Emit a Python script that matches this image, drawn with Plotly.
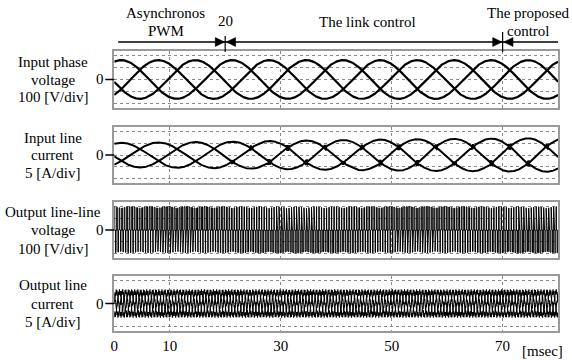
import numpy as np
import plotly.graph_objects as go

# ---------------- data ----------------
x_tick_vals = [0, 10, 30, 50, 70]
x_tick_text = ["0", "10", "30", "50", "70"]
t_end = 80.0                      # msec
mode_marks = [20, 70]             # control switching instants [msec]
mode_mark_labels = ["20", ""]

panel_labels = [
    ["Input phase", "voltage", "100 [V/div]"],
    ["Input line", "current", "5 [A/div]"],
    ["Output line-line", "voltage", "100 [V/div]"],
    ["Output line", "current", "5 [A/div]"],
]
panel_div = [100, 5, 100, 5]      # units per division

# input phase voltage (3-phase, 50 Hz)
vin_freq_hz = 50.0
vin_amp_v = 163.0
vin_phase_deg = -53.0
phase_shift_deg = [0.0, -120.0, 120.0]

# input line current envelope (A) read at these instants (msec)
iin_env_t = [0, 20, 40, 60, 80]
iin_env_a = [5.2, 5.7, 6.4, 6.9, 7.2]
iin_glitch_a = 1.1                # distortion at crossings after 20 ms
iin_glitch_khz = 2.0

# output line-line voltage PWM
vout_pulse_v = [200.0, 196.0]     # positive / negative pulse heights
vout_carrier_ms = 0.45
vout_freq_hz = 23.0
vout_mod = 0.8

# output line current
iout_freq_hz = 610.0
iout_amp_a = 5.1
iout_ripple_a = 1.1
iout_ripple_khz = 6.3

# ---------------- build traces ----------------
W, H = 572, 360
x0_px, x1_px = 111, 558
panels_px = [(51, 108), (127, 183), (202, 258), (276, 331)]
FONT = "Liberation Serif, DejaVu Serif"

t = np.arange(0, t_end + 1e-9, 0.01)
tf = np.arange(0, t_end + 1e-9, 0.004)

fig = go.Figure()

def ydom(p):
    a, b = panels_px[p]
    return [1 - b / H, 1 - a / H]

# panel 1
th = 2 * np.pi * vin_freq_hz * t / 1000 + np.deg2rad(vin_phase_deg)
for ps in phase_shift_deg:
    fig.add_trace(go.Scatter(x=t, y=vin_amp_v * np.sin(th + np.deg2rad(ps)),
                             mode="lines", line=dict(color="black", width=2.2),
                             xaxis="x", yaxis="y", hoverinfo="skip"))

# panel 2
env = np.interp(t, iin_env_t, iin_env_a)
gl_on = (t > 18.5).astype(float)
for k, ps in enumerate(phase_shift_deg):
    s = np.sin(th + np.deg2rad(ps))
    glitch = iin_glitch_a * np.sin(2 * np.pi * iin_glitch_khz * t + k * 2.1) * \
        np.exp(-((np.abs(s) - 0.5) / 0.07) ** 2) * gl_on
    fig.add_trace(go.Scatter(x=t, y=env * s + glitch,
                             mode="lines", line=dict(color="black", width=2.0),
                             xaxis="x2", yaxis="y2", hoverinfo="skip"))

# panel 3 (PWM)
thf = 2 * np.pi * vin_freq_hz * tf / 1000 + np.deg2rad(vin_phase_deg)
ref = vout_mod * np.sin(2 * np.pi * vout_freq_hz * tf / 1000)
u = (tf % vout_carrier_ms) / vout_carrier_ms
ripple6 = 0.93 + 0.07 * np.abs(np.cos(3 * thf))
pos = (u < 0.22 * (1 + ref)).astype(float)
neg = ((u >= 0.5) & (u < 0.5 + 0.22 * (1 - ref))).astype(float)
vout = vout_pulse_v[0] * ripple6 * pos - vout_pulse_v[1] * ripple6 * neg
fig.add_trace(go.Scatter(x=tf, y=vout, mode="lines",
                         line=dict(color="black", width=1.0),
                         xaxis="x3", yaxis="y3", hoverinfo="skip"))

# panel 4
for k, ps in enumerate(phase_shift_deg):
    y = iout_amp_a * np.sin(2 * np.pi * iout_freq_hz * tf / 1000 + np.deg2rad(ps)) + \
        iout_ripple_a * np.sin(2 * np.pi * iout_ripple_khz * tf + k * 2.0)
    fig.add_trace(go.Scatter(x=tf, y=y, mode="lines",
                             line=dict(color="black", width=1.1),
                             xaxis="x4", yaxis="y4", hoverinfo="skip"))

# ---------------- axes ----------------
layout = dict(width=W, height=H, margin=dict(l=0, r=0, t=0, b=0),
              paper_bgcolor="white", plot_bgcolor="white", showlegend=False,
              font=dict(family=FONT, size=15, color="black"))
for p in range(4):
    sx = "" if p == 0 else str(p + 1)
    layout["xaxis" + sx] = dict(domain=[x0_px / W, x1_px / W], range=[0, t_end],
                                anchor="y" + sx, tickvals=x_tick_vals,
                                ticktext=x_tick_text,
                                showticklabels=(p == 3), ticks="",
                                showgrid=True, gridcolor="#8a8a8a", griddash="dot",
                                gridwidth=1, zeroline=False,
                                showline=True, mirror=True, linecolor="#9a9a9a",
                                linewidth=1.5,
                                tickfont=dict(family=FONT, size=15, color="black"))
    d = panel_div[p]
    layout["yaxis" + sx] = dict(domain=ydom(p), range=[-2.4 * d, 2.4 * d],
                                anchor="x" + sx, tickvals=[-2 * d, -d, 0, d, 2 * d],
                                showticklabels=False, ticks="",
                                showgrid=True, gridcolor="#8a8a8a", griddash="dot",
                                gridwidth=1, zeroline=False,
                                showline=True, mirror=True, linecolor="#9a9a9a",
                                linewidth=1.5)
fig.update_layout(**layout)

TF = dict(family=FONT, size=15, color="black")
ann = []
shapes = []
for p in range(4):
    a, b = panels_px[p]
    cy = (a + b) / 2
    sp = 18.5 if p >= 2 else 17.5
    for j, txt in enumerate(panel_labels[p]):
        ann.append(dict(text=txt, x=49 / W, y=1 - (cy + (j - 1) * sp) / H,
                        xref="paper", yref="paper", showarrow=False,
                        xanchor="center", yanchor="middle", font=TF))
    sx = "" if p == 0 else str(p + 1)
    ann.append(dict(text="0", x=97 / W, y=0, xref="paper", yref="y" + sx,
                    showarrow=False, xanchor="center", yanchor="middle", font=TF))
    shapes.append(dict(type="line", xref="paper", yref="y" + sx,
                       x0=102 / W, x1=111 / W, y0=0, y1=0,
                       line=dict(color="black", width=1.5)))

ann.append(dict(text="[msec]", x=542 / W, y=1 - 351 / H, xref="paper", yref="paper",
                showarrow=False, xanchor="center", yanchor="middle", font=TF))

px_per_ms = (x1_px - x0_px) / t_end
def tx(ms):
    return (x0_px + ms * px_per_ms) / W
def ty(py):
    return 1 - py / H

top = [
    dict(text="Asynchronos", x=tx(9.3), y=ty(13)),
    dict(text="PWM", x=tx(9.3), y=ty(31)),
    dict(text=mode_mark_labels[0], x=tx(mode_marks[0]), y=ty(21)),
    dict(text="The link control", x=tx(45.7), y=ty(22)),
    dict(text="The proposed", x=tx(74.6), y=ty(13)),
    dict(text="control", x=tx(74.6), y=ty(31)),
]
for a_ in top:
    a_.update(xref="paper", yref="paper", showarrow=False, xanchor="center",
              yanchor="middle", font=TF)
ann += top

arrow_y = 42
shapes.append(dict(type="line", xref="paper", yref="paper",
                   x0=115 / W, x1=x1_px / W, y0=ty(arrow_y), y1=ty(arrow_y),
                   line=dict(color="black", width=1.5)))
vtops = [36, 32]
for m, vt in zip(mode_marks, vtops):
    xm = x0_px + m * px_per_ms
    shapes.append(dict(type="line", xref="paper", yref="paper",
                       x0=xm / W, x1=xm / W, y0=ty(vt), y1=ty(52),
                       line=dict(color="black", width=1.2)))
    p1 = f"M {(xm - 10) / W},{ty(arrow_y - 4.5)} L {(xm - 0.5) / W},{ty(arrow_y)} L {(xm - 10) / W},{ty(arrow_y + 4.5)} Z"
    p2 = f"M {(xm + 10.5) / W},{ty(arrow_y - 4.5)} L {(xm + 1) / W},{ty(arrow_y)} L {(xm + 10.5) / W},{ty(arrow_y + 4.5)} Z"
    for pth in (p1, p2):
        shapes.append(dict(type="path", xref="paper", yref="paper", path=pth,
                           fillcolor="black", line=dict(color="black", width=0.5)))

fig.update_layout(annotations=ann, shapes=shapes)
fig.write_html("out.html")
